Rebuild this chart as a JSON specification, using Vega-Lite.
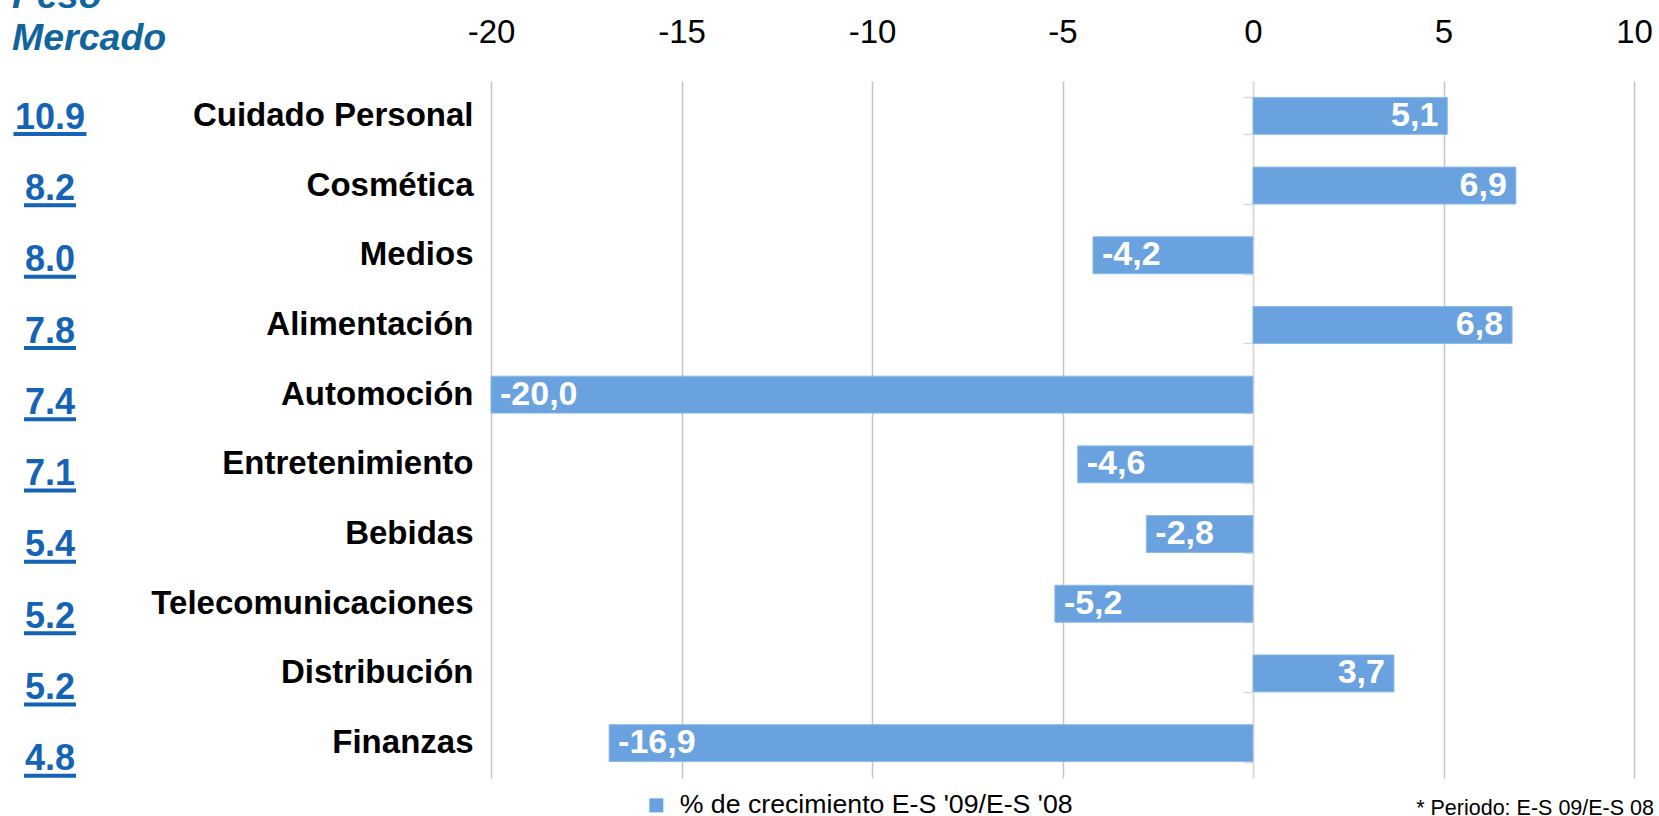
{
  "$schema": "https://vega.github.io/schema/vega-lite/v6.json",
  "autosize": {"type": "pad"},
  "padding": {"left": 11, "top": -23, "right": 0, "bottom": 0},
  "background": "white",
  "config": {
    "font": "Liberation Sans",
    "view": {"stroke": null},
    "locale": {"number": {"decimal": ",", "thousands": ".", "grouping": [3], "currency": ["", " €"], "minus": "-"}}
  },
  "bounds": "flush",
  "spacing": 403,
  "resolve": {"scale": {"color": "independent"}, "legend": {"color": "independent"}},
  "datasets": {
    "crec": [
      {"cat": "Cuidado Personal", "v": 5.1, "serie": "% de crecimiento E-S '09/E-S '08"},
      {"cat": "Cosmética", "v": 6.9, "serie": "% de crecimiento E-S '09/E-S '08"},
      {"cat": "Medios", "v": -4.2, "serie": "% de crecimiento E-S '09/E-S '08"},
      {"cat": "Alimentación", "v": 6.8, "serie": "% de crecimiento E-S '09/E-S '08"},
      {"cat": "Automoción", "v": -20.0, "serie": "% de crecimiento E-S '09/E-S '08"},
      {"cat": "Entretenimiento", "v": -4.6, "serie": "% de crecimiento E-S '09/E-S '08"},
      {"cat": "Bebidas", "v": -2.8, "serie": "% de crecimiento E-S '09/E-S '08"},
      {"cat": "Telecomunicaciones", "v": -5.2, "serie": "% de crecimiento E-S '09/E-S '08"},
      {"cat": "Distribución", "v": 3.7, "serie": "% de crecimiento E-S '09/E-S '08"},
      {"cat": "Finanzas", "v": -16.9, "serie": "% de crecimiento E-S '09/E-S '08"}
    ],
    "peso": [
      {"cat": "Cuidado Personal", "peso": "10.9"},
      {"cat": "Cosmética", "peso": "8.2"},
      {"cat": "Medios", "peso": "8.0"},
      {"cat": "Alimentación", "peso": "7.8"},
      {"cat": "Automoción", "peso": "7.4"},
      {"cat": "Entretenimiento", "peso": "7.1"},
      {"cat": "Bebidas", "peso": "5.4"},
      {"cat": "Telecomunicaciones", "peso": "5.2"},
      {"cat": "Distribución", "peso": "5.2"},
      {"cat": "Finanzas", "peso": "4.8"}
    ]
  },
  "hconcat": [
    {
      "width": 76,
      "height": 713,
      "data": {"name": "peso"},
      "title": {
        "text": ["Peso", "Mercado"],
        "anchor": "start",
        "frame": "group",
        "orient": "top",
        "baseline": "bottom",
        "fontSize": 37.5,
        "fontStyle": "italic",
        "fontWeight": "bold",
        "color": "#10659F",
        "lineHeight": 42,
        "offset": -14
      },
      "encoding": {
        "y": {"field": "cat", "type": "nominal", "sort": null, "axis": null, "scale": {"paddingInner": 0, "paddingOuter": 0}}
      },
      "layer": [
        {
          "mark": {"type": "text", "fontSize": 36, "fontWeight": "bold", "color": "#1463B4", "align": "center", "baseline": "alphabetic", "dy": 12},
          "encoding": {
            "x": {"datum": 0.5, "type": "quantitative", "scale": {"domain": [0, 1], "nice": false, "zero": false}, "axis": null},
            "text": {"field": "peso"}
          }
        },
        {
          "transform": [{"filter": "length(datum.peso) > 3"}],
          "mark": {"type": "rule", "strokeWidth": 4, "color": "#1463B4", "yOffset": 17.4},
          "encoding": {
            "x": {"datum": 0.02, "type": "quantitative"},
            "x2": {"datum": 0.98}
          }
        },
        {
          "transform": [{"filter": "length(datum.peso) <= 3"}],
          "mark": {"type": "rule", "strokeWidth": 4, "color": "#1463B4", "yOffset": 17.4},
          "encoding": {
            "x": {"datum": 0.158, "type": "quantitative"},
            "x2": {"datum": 0.842}
          }
        }
      ]
    },
    {
      "width": 1143,
      "height": 697,
      "data": {"name": "crec"},
      "title": {
        "text": "* Periodo: E-S 09/E-S 08",
        "orient": "bottom",
        "anchor": "end",
        "frame": "group",
        "fontSize": 21.5,
        "fontWeight": "normal",
        "color": "black",
        "offset": -22,
        "dx": 20
      },
      "encoding": {
        "y": {"field": "cat", "type": "nominal", "sort": null, "scale": {"paddingInner": 0.47, "paddingOuter": 0.235}},
        "x": {
          "field": "v",
          "type": "quantitative",
          "scale": {"domain": [-20, 10], "nice": false, "zero": false},
          "axis": {
            "orient": "top",
            "values": [-20, -15, -10, -5, 0, 5, 10],
            "labelFontSize": 33,
            "labelColor": "black",
            "labelPadding": 32,
            "labelFlush": false,
            "labelOverlap": false,
            "labelExpr": "datum.value + ''",
            "ticks": false,
            "domain": false,
            "grid": true,
            "gridColor": {"condition": {"test": "datum.value === 0", "value": "#D9D9D9"}, "value": "#C4C4C4"},
            "gridWidth": 1.5,
            "title": null
          }
        }
      },
      "layer": [
        {
          "mark": {"type": "bar", "stroke": "#8DBBEA", "strokeWidth": 1},
          "encoding": {
            "y": {
              "field": "cat", "type": "nominal", "sort": null,
              "axis": {
                "orient": "left",
                "labelFontSize": 33,
                "labelFontWeight": "bold",
                "labelColor": "black",
                "labelPadding": 18,
                "labelLimit": 600,
                "ticks": false,
                "domain": false,
                "grid": false,
                "title": null
              }
            },
            "color": {
              "field": "serie",
              "type": "nominal",
              "scale": {"range": ["#69A2DF"]},
              "legend": {
                "orient": "none",
                "legendX": 152,
                "legendY": 711,
                "direction": "horizontal",
                "title": null,
                "symbolType": "square",
                "symbolSize": 196,
                "symbolStrokeWidth": 0,
                "symbolOpacity": 1,
                "labelFontSize": 26.7,
                "labelColor": "black",
                "labelOffset": 10,
                "labelLimit": 800,
                "padding": 0
              }
            }
          }
        },
        {
          "transform": [{"filter": "datum.v > 0"}],
          "mark": {"type": "text", "align": "right", "baseline": "middle", "dx": -9, "fontSize": 34, "fontWeight": "bold", "color": "white"},
          "encoding": {
            "text": {"field": "v", "type": "quantitative", "format": ".1f"},
            "y": {
              "field": "cat", "type": "nominal", "sort": null,
              "axis": {
                "orient": "left",
                "labels": false,
                "ticks": true,
                "tickBand": "extent",
                "tickSize": 10,
                "tickColor": "#D9D9D9",
                "tickWidth": 1.5,
                "domain": true,
                "domainColor": "#D9D9D9",
                "domainWidth": 1.5,
                "offset": -762,
                "grid": false,
                "title": null
              }
            }
          }
        },
        {
          "transform": [{"filter": "datum.v < 0"}],
          "mark": {"type": "text", "align": "left", "baseline": "middle", "dx": 9, "fontSize": 34, "fontWeight": "bold", "color": "white"},
          "encoding": {
            "text": {"field": "v", "type": "quantitative", "format": ".1f"},
            "y": {"field": "cat", "type": "nominal", "sort": null, "axis": null}
          }
        }
      ],
      "resolve": {"axis": {"y": "independent"}}
    }
  ]
}
